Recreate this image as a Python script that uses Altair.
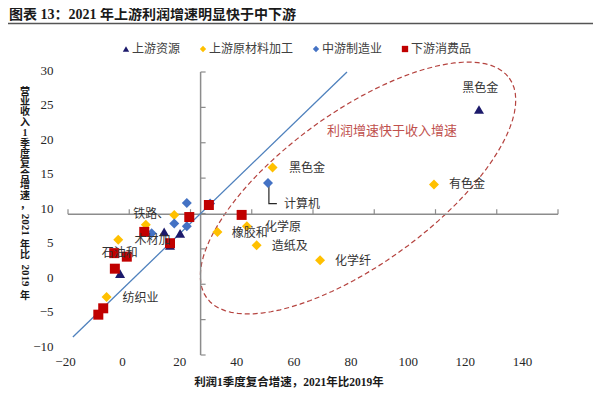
import altair as alt
import pandas as pd
import numpy as np

# ---------------- data ----------------
series = ["上游资源", "上游原材料加工", "中游制造业", "下游消费品"]
colors = ["#1C1A6B", "#FFC000", "#4472C4", "#C00000"]
shapes = ["triangle-up", "diamond", "diamond", "square"]

up_res_x = [114.2, 11.4, 16.6, 13.3, -3.0]
up_res_y = [24.7, 7.4, 7.2, 5.5, 1.5]
raw_x = [14.7, 5.4, -3.6, -7.4, 28.8, 38.4, 41.6, 62.3, 46.8, 99.5]
raw_y = [9.8, 8.4, 6.3, -1.8, 7.4, 8.2, 5.5, 3.4, 16.5, 14.1]
mid_x = [18.8, 26.4, 14.7, 18.8, 7.3, 45.3]
mid_y = [11.5, 11.4, 8.6, 8.2, 7.2, 14.3]
down_x = [19.6, 26.0, 4.9, 13.3, -4.9, -0.8, -4.7, -8.5, -10.1, 36.7]
down_y = [9.5, 11.2, 7.4, 5.8, 4.4, 3.9, 2.2, -3.4, -4.3, 9.8]

x_ticks = [-20, 0, 20, 40, 60, 80, 100, 120, 140]
y_ticks = [-10, -5, 0, 5, 10, 15, 20, 25, 30]
cross_x = 23.3
cross_y = 9.9
diag_x = [-18.4, 71.1]
diag_y = [-7.45, 30.0]

ann_text = ["黑色金", "黑色金", "有色金", "计算机", "化学原", "橡胶和", "造纸及",
            "化学纤", "铁路、", "木材加", "石油和", "纺织业"]
ann_x = [114.6, 52.2, 104.4, 50.5, 44.3, 33.5, 46.5, 67.2, 1.3, 1.7, -9.0, -2.2]
ann_y = [27.7, 16.5, 14.1, 11.4, 8.1, 7.3, 5.4, 3.3, 9.9, 6.3, 4.4, -1.9]
ann_align = ["center"] + ["left"] * 11

leader_x = [45.6, 45.6, 48.2]
leader_y = [14.0, 11.4, 11.4]

region_text = "利润增速快于收入增速"
region_x, region_y = 85.8, 21.7
ellipse_cx, ellipse_cy = 74.7, 13.6

title_text = "图表 13：2021 年上游利润增速明显快于中下游"
x_title = "利润1季度复合增速，2021年比2019年"
y_title_parts = [("营业收入", "c"), ("1", "d"), ("季度复合增速", "c"), ("，", "p"),
                 ("2021", "r"), ("年比", "c"), ("2019", "r"), ("年", "c")]

# ---------------- layout ----------------
W, H = 490, 283
XD = [-20, 140]
YD = [-10, 30]
SERIF = "Liberation Serif, Noto Sans CJK SC"
CJK = "Noto Sans CJK SC"

rows = []
for name, xs_, ys_ in zip(series, [up_res_x, raw_x, mid_x, down_x], [up_res_y, raw_y, mid_y, down_y]):
    for a, b in zip(xs_, ys_):
        rows.append({"series": name, "x": a, "y": b})
pts = pd.DataFrame(rows)

xs = alt.Scale(domain=XD, nice=False, zero=False)
ys = alt.Scale(domain=YD, nice=False, zero=False)

one = pd.DataFrame({"a": [0]})

# crossing axes
hline = alt.Chart(pd.DataFrame({"x": [XD[0]], "x2": [XD[1]], "y": [cross_y]})).mark_rule(
    color="#8C8C8C", strokeWidth=1.5).encode(
    x=alt.X("x:Q", scale=xs, axis=None), x2="x2:Q", y=alt.Y("y:Q", scale=ys, axis=None))
vline = alt.Chart(pd.DataFrame({"x": [cross_x], "y": [YD[0]], "y2": [YD[1]]})).mark_rule(
    color="#8C8C8C", strokeWidth=1.5).encode(
    x=alt.X("x:Q", scale=xs, axis=None), y=alt.Y("y:Q", scale=ys, axis=None), y2="y2:Q")
hticks = alt.Chart(pd.DataFrame({"x": x_ticks, "y": [cross_y] * len(x_ticks)})).mark_tick(
    orient="vertical", size=5, thickness=1.2, color="#8C8C8C", yOffset=-2.5, opacity=1).encode(
    x=alt.X("x:Q", scale=xs, axis=None), y=alt.Y("y:Q", scale=ys, axis=None))
vticks = alt.Chart(pd.DataFrame({"x": [cross_x] * len(y_ticks), "y": y_ticks})).mark_tick(
    orient="horizontal", size=5, thickness=1.2, color="#8C8C8C", xOffset=2.5, opacity=1).encode(
    x=alt.X("x:Q", scale=xs, axis=None), y=alt.Y("y:Q", scale=ys, axis=None))

diag = alt.Chart(pd.DataFrame({"x": diag_x, "y": diag_y})).mark_line(
    color="#4F81BD", strokeWidth=1.3).encode(
    x=alt.X("x:Q", scale=xs, axis=None), y=alt.Y("y:Q", scale=ys, axis=None))

# dashed ellipse as a custom symbol
a_px, b_px, theta = 187.0, 76.0, np.deg2rad(36)
t = np.linspace(0, 2 * np.pi, 90, endpoint=False)
ex, ey = np.cos(t), (b_px / a_px) * np.sin(t)
X = ex * np.cos(theta) + ey * np.sin(theta)
Y = -ex * np.sin(theta) + ey * np.cos(theta)
path = "M " + " L ".join(f"{u:.4f} {v:.4f}" for u, v in zip(X, Y)) + " Z"
ellipse = alt.Chart(pd.DataFrame({"x": [ellipse_cx], "y": [ellipse_cy]})).mark_point(
    shape=path, size=(2 * a_px) ** 2, filled=False, stroke="#B5433F", strokeWidth=1.2,
    strokeDash=[5, 3], opacity=1).encode(
    x=alt.X("x:Q", scale=xs, axis=None), y=alt.Y("y:Q", scale=ys, axis=None))

legend = alt.Legend(orient="none", legendX=52, legendY=-29, direction="horizontal", title=None,
                    symbolSize=40, labelFont=CJK, labelFontSize=12, labelColor="#404040",
                    columnPadding=16, labelOffset=0, padding=0, symbolStrokeWidth=0)
points = alt.Chart(pts).mark_point(filled=True, size=100, opacity=1).encode(
    x=alt.X("x:Q", scale=xs, axis=None),
    y=alt.Y("y:Q", scale=ys, axis=None),
    color=alt.Color("series:N", scale=alt.Scale(domain=series, range=colors), legend=legend),
    shape=alt.Shape("series:N", scale=alt.Scale(domain=series, range=shapes), legend=legend),
)

ann = pd.DataFrame({"t": ann_text, "x": ann_x, "y": ann_y, "al": ann_align})
ann_layers = []
for al in ["center", "left"]:
    ann_layers.append(alt.Chart(ann[ann.al == al]).mark_text(
        align=al, baseline="middle", font=CJK, fontSize=12, color="#333333").encode(
        x=alt.X("x:Q", scale=xs, axis=None), y=alt.Y("y:Q", scale=ys, axis=None), text="t:N"))

leader = alt.Chart(pd.DataFrame({"x": leader_x, "y": leader_y, "o": [0, 1, 2]})).mark_line(
    color="#262626", strokeWidth=1.2).encode(
    x=alt.X("x:Q", scale=xs, axis=None), y=alt.Y("y:Q", scale=ys, axis=None), order="o:Q")

region = alt.Chart(pd.DataFrame({"t": [region_text], "x": [region_x], "y": [region_y]})).mark_text(
    align="center", baseline="middle", font=CJK, fontSize=13, color="#C0504D").encode(
    x=alt.X("x:Q", scale=xs, axis=None), y=alt.Y("y:Q", scale=ys, axis=None), text="t:N")

# title, underline, axis titles (pixel positions relative to plot origin)
title = alt.Chart(one).mark_text(text=title_text, align="left", baseline="middle", font=SERIF,
                                 fontSize=14, fontWeight="bold", color="#1a1a1a").encode(
    x=alt.value(-59), y=alt.value(-57))
underline = alt.Chart(one).mark_rule(color="#555555", strokeWidth=1.5).encode(
    x=alt.value(-60), x2=alt.value(530), y=alt.value(-48.5))
xtitle = alt.Chart(one).mark_text(text=x_title, align="center", baseline="middle", font=SERIF,
                                  fontSize=11.5, fontWeight="bold", color="#1a1a1a").encode(
    x=alt.value(289 - 68), y=alt.value(383 - 72))

# stacked vertical y title
adv = {"c": 10.4, "d": 10.4, "p": 9.0, "r": 30.0}
cursor = 86.4 - 72
up_rows, rot_rows = [], []
for txt, kind in y_title_parts:
    if kind in ("c", "p", "d"):
        for ch in txt:
            step = adv[kind]
            up_rows.append({"t": ch, "py": cursor + step / 2})
            cursor += step
    else:
        rot_rows.append({"t": txt, "py": cursor + adv["r"] / 2})
        cursor += adv["r"]
ytitle_up = alt.Chart(pd.DataFrame(up_rows)).mark_text(
    align="center", baseline="middle", font=SERIF, fontSize=10, fontWeight="bold", color="#1a1a1a").encode(
    x=alt.value(25 - 68), y=alt.Y("py:Q", scale=None), text="t:N")
ytitle_rot = alt.Chart(pd.DataFrame(rot_rows)).mark_text(
    align="center", baseline="middle", font=SERIF, fontSize=11, fontWeight="bold", color="#1a1a1a",
    angle=90).encode(
    x=alt.value(25 - 68), y=alt.Y("py:Q", scale=None), text="t:N")

main = alt.layer(ellipse, hline, vline, hticks, vticks, diag, leader, points, *ann_layers, region,
                 title, underline, xtitle, ytitle_up, ytitle_rot)

# axis labels layer (labels placed as in the reference picture)
lab = alt.Chart(pd.DataFrame({"lx": [0.0], "ly": [0.0]})).mark_point(opacity=0).encode(
    x=alt.X("lx:Q", scale=alt.Scale(domain=[-20, 151.57], nice=False, zero=False),
            axis=alt.Axis(orient="bottom", values=x_ticks, domain=False, ticks=False, tickSize=0,
                          grid=False, title=None, labelOffset=-3, labelPadding=0,
                          labelFlush=False, labelOverlap=False,
                          labelFont=SERIF, labelFontSize=13, labelColor="#262626")),
    y=alt.Y("ly:Q", scale=alt.Scale(domain=[-11.0, 30.0], nice=False, zero=False),
            axis=alt.Axis(orient="left", values=y_ticks, domain=False, ticks=False, tickSize=0,
                          grid=False, title=None, labelPadding=15, labelOffset=-2,
                          labelFlush=False, labelOverlap=False,
                          labelFont=SERIF, labelFontSize=13, labelColor="#262626")),
)

chart = alt.layer(main, lab).resolve_scale(x="independent", y="independent").properties(
    width=W, height=H,
    padding={"left": 60, "top": 64, "right": 35, "bottom": 36},
    autosize=alt.AutoSizeParams(type="none"),
    background="white",
).configure_view(stroke=None)

chart.save("out.html", embed_options={"renderer": "svg", "actions": False})
